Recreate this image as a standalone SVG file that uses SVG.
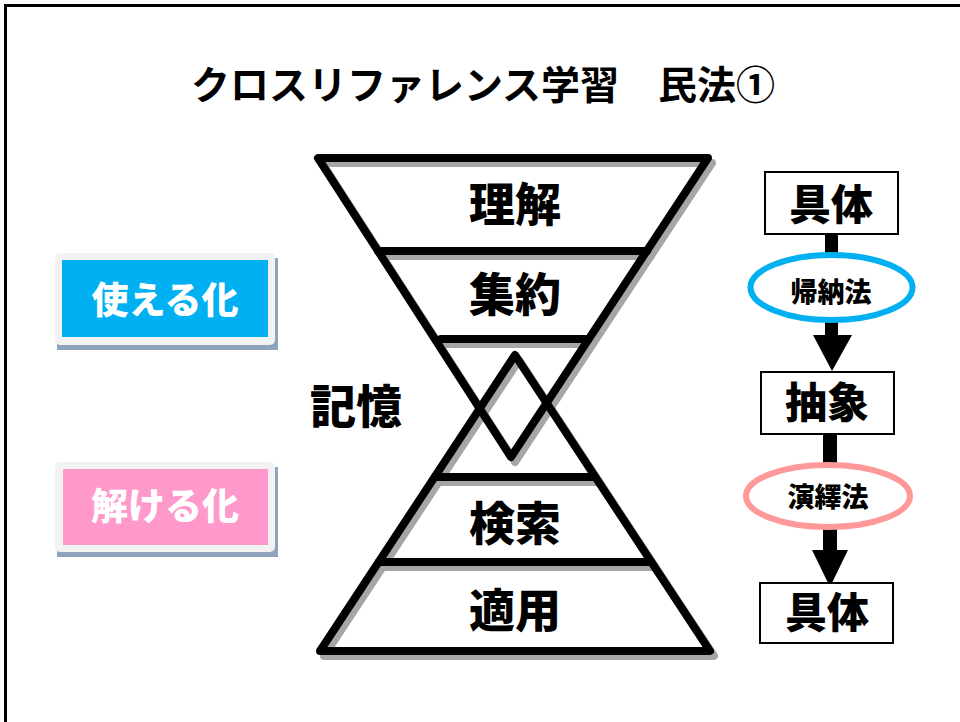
<svg xmlns="http://www.w3.org/2000/svg" width="960" height="722" viewBox="0 0 960 722">
<style>
text{font-family:"Noto Sans CJK JP","Noto Sans CJK SC",sans-serif;text-anchor:middle}
.t{font-size:39px;font-weight:700;fill:#000}
.lab{font-size:46px;font-weight:900;fill:#000}
.btn{font-size:37px;font-weight:900;fill:#fff}
.box{fill:#fff;stroke:#000;stroke-width:2}
.bt{font-size:42px;font-weight:900;fill:#000}
.et{font-size:27px;font-weight:900;fill:#000}
.hg{fill:none;stroke:#000;stroke-width:8;stroke-linejoin:round;stroke-linecap:round}
.sh{fill:none;stroke:#a6a6a6;stroke-width:8;stroke-linejoin:round;stroke-linecap:round}
</style>
<defs>
<g id="hourglass">
<path d="M318,158 L708,158 L511,457 Z"/>
<path d="M378,251 L647,251 M441,339 L588,339"/>
<path d="M515,355 L710,651 L320,651 Z"/>
<path d="M435,477 L595,477 M379,562 L651,562"/>
</g>
</defs>
<rect x="5.5" y="5.5" width="1000" height="800" fill="#fff" stroke="#000" stroke-width="3"/>
<g id="title"><text class="t" x="483" y="99">クロスリファレンス学習　民法①</text></g>
<g id="hourglass-shape">
<use href="#hourglass" class="sh" transform="translate(4,5)"/>
<use href="#hourglass" class="hg"/>
</g>
<g id="n-rikai"><text class="lab" x="515" y="221">理解</text></g>
<g id="n-shuyaku"><text class="lab" x="515" y="311">集約</text></g>
<g id="n-kioku"><text class="lab" x="356" y="423">記憶</text></g>
<g id="n-kensaku"><text class="lab" x="515" y="540">検索</text></g>
<g id="n-tekiyo"><text class="lab" x="515" y="627">適用</text></g>
<g id="btn-tsukaeru">
<rect x="57" y="258" width="221" height="92" fill="#8ea4bc"/>
<rect x="55" y="253" width="220" height="92" rx="5" fill="#f2f2f2"/>
<rect x="62" y="260" width="206" height="77" fill="#00b0f0"/>
<text class="btn" x="165" y="314">使える化</text>
</g>
<g id="btn-tokeru">
<rect x="57" y="467" width="221" height="90" fill="#8ea4bc"/>
<rect x="55" y="462" width="220" height="90" rx="5" fill="#f2f2f2"/>
<rect x="63" y="469" width="205" height="76" fill="#ff99cc"/>
<text class="btn" x="165" y="520">解ける化</text>
</g>
<g id="connectors">
<rect x="825" y="234" width="13" height="20" fill="#000"/>
<rect x="825" y="321" width="13" height="16" fill="#000"/>
<polygon points="813,335 852,335 832,371" fill="#000"/>
<rect x="823" y="434" width="14" height="30" fill="#000"/>
<rect x="823" y="528" width="14" height="24" fill="#000"/>
<polygon points="812,550 848,550 830,587" fill="#000"/>
</g>
<g id="n-gutai1">
<rect class="box" x="765" y="172" width="133" height="62"/>
<text class="bt" x="831" y="220">具体</text>
</g>
<g id="n-kinoho">
<ellipse cx="831.5" cy="287.5" rx="81" ry="32.5" fill="#fff" stroke="#00b0f0" stroke-width="6"/>
<text class="et" x="831" y="302">帰納法</text>
</g>
<g id="n-chusho">
<rect class="box" x="761" y="372" width="133" height="62"/>
<text class="bt" x="827" y="418">抽象</text>
</g>
<g id="n-eneki">
<ellipse cx="828" cy="496" rx="82" ry="31" fill="#fff" stroke="#ff9999" stroke-width="6"/>
<text class="et" x="828" y="507">演繹法</text>
</g>
<g id="n-gutai2">
<rect class="box" x="760" y="583" width="133" height="60"/>
<text class="bt" x="827" y="628">具体</text>
</g>
</svg>
